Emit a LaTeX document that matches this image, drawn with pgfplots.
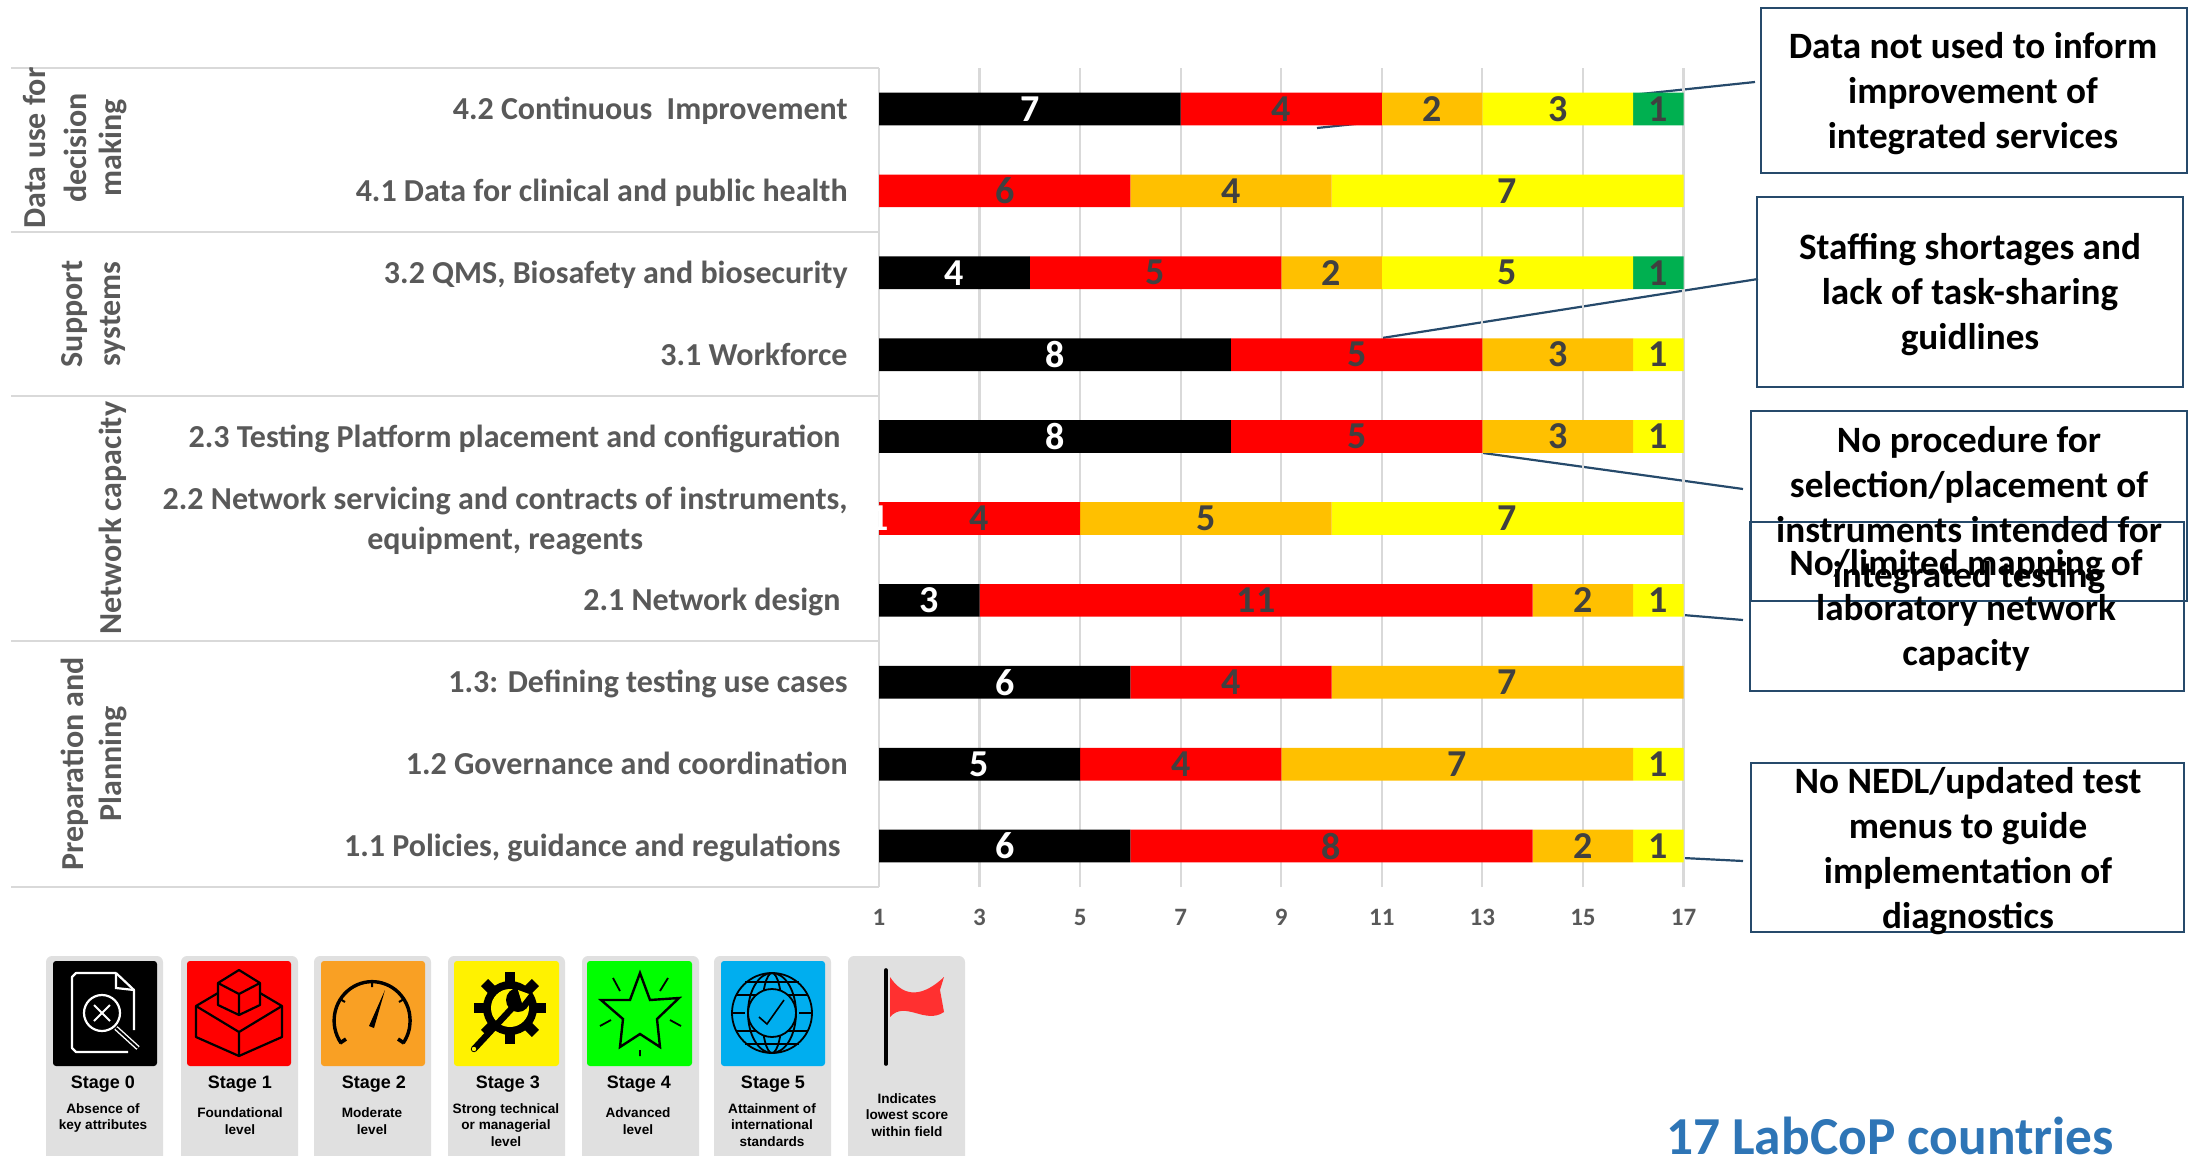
\documentclass[border=0pt]{standalone}
\usepackage{pgfplots}
\pgfplotsset{compat=1.18}
\usepackage{pgfplotstable}
\usepackage{fontspec}
\setmainfont{Carlito}
\newfontfamily\arial{Liberation Sans}
\definecolor{txt}{HTML}{595959}
\definecolor{lab}{HTML}{404040}
\definecolor{grd}{HTML}{D9D9D9}
\definecolor{sred}{HTML}{FF0000}
\definecolor{sorange}{HTML}{FFC000}
\definecolor{syellow}{HTML}{FFFF00}
\definecolor{sgreen}{HTML}{00B050}
\definecolor{cal}{HTML}{264A6B}
\definecolor{card}{HTML}{E0E0E0}
\definecolor{bluet}{HTML}{2E75B6}
\definecolor{iorange}{HTML}{F9A024}
\definecolor{iyellow}{HTML}{FFF200}
\definecolor{igreen}{HTML}{00FF00}
\definecolor{iblue}{HTML}{00AEEF}
\definecolor{iflag}{HTML}{FF3030}
\pgfplotstableread{
y s0 s1 s2 s3 s4
10 7 4 2 3 1
9 0 6 4 7 0
8 4 5 2 5 1
7 8 5 3 1 0
6 8 5 3 1 0
5 1 4 5 7 0
4 3 11 2 1 0
3 6 4 7 0 0
2 5 4 7 1 0
1 6 8 2 1 0
}\stagedata
\pgfplotstableread{
x y label
4 10 7
2.5 8 4
4.5 7 8
4.5 6 8
1 5 1
2 4 3
3.5 3 6
3 2 5
3.5 1 6
}\whitelabels
\pgfplotstableread{
x y label
9 10 4
12 10 2
14.5 10 3
16.5 10 1
3.5 9 6
8 9 4
13.5 9 7
6.5 8 5
10 8 2
13.5 8 5
16.5 8 1
10.5 7 5
14.5 7 3
16.5 7 1
10.5 6 5
14.5 6 3
16.5 6 1
3 5 4
7.5 5 5
13.5 5 7
8.5 4 11
15 4 2
16.5 4 1
8 3 4
13.5 3 7
7 2 4
12.5 2 7
16.5 2 1
10 1 8
15 1 2
16.5 1 1
}\darklabels
\begin{document}
\begin{tikzpicture}[x=0.5pt,y=-0.5pt]
\path[use as bounding box] (0,0) rectangle (2202,1156);
% callout lines (under the bars)
\begin{scope}[draw=cal,line width=1.1pt]
\draw (1317,128) -- (1755,82);
\draw (1382,338) -- (1758,279);
\draw (1483,453) -- (1743,489);
\draw (1683,615) -- (1743,620);
\draw (1683,858) -- (1743,861);
\end{scope}
% group separators
\begin{scope}[draw=grd,line width=1.1pt]
\foreach \yy in {68,232,396,641,887} \draw (11,\yy) -- (879,\yy);
\end{scope}
\begin{axis}[
  at={(439.5pt,-443.5pt)},anchor=south west,scale only axis,
  width=402.25pt,height=409.5pt,
  xbar stacked,bar width=16.35pt,
  xmin=1,xmax=17,ymin=0.5,ymax=10.5,
  xtick={1,3,...,17},ytick={1,...,10},
  yticklabels={{\strut 1.1 Policies, guidance and regulations\hspace{3.5pt}},
    {\strut 1.2 Governance and coordination},
    {\strut 1.3: Defining testing use cases},
    {\strut 2.1 Network design\hspace{3.5pt}},
    {\strut 2.2 Network servicing and contracts of instruments,\\\strut equipment, reagents},
    {\strut 2.3 Testing Platform placement and configuration\hspace{3.5pt}},
    {\strut 3.1 Workforce},
    {\strut 3.2 QMS, Biosafety and biosecurity},
    {\strut 4.1 Data for clinical and public health},
    {\strut 4.2 Continuous\ \ Improvement}},
  xmajorgrids,grid style={grd,line width=1.1pt},
  major tick length=0pt,
  axis line style={draw=none},
  /pgf/number format/assume math mode=true,
  xticklabel style={font=\fontsize{12.5}{13}\selectfont\bfseries,text=txt,yshift=-7.5pt},
  yticklabel style={font=\fontsize{16}{20}\selectfont\bfseries,text=txt,align=center,anchor=east,inner sep=0pt,xshift=-15.5pt,yshift=-1.3pt},
]
\addplot[fill=black,draw=none] table[x=s0,y=y] {\stagedata};
\addplot[fill=sred,draw=none] table[x=s1,y=y] {\stagedata};
\addplot[fill=sorange,draw=none] table[x=s2,y=y] {\stagedata};
\addplot[fill=syellow,draw=none] table[x=s3,y=y] {\stagedata};
\addplot[fill=sgreen,draw=none] table[x=s4,y=y] {\stagedata};
\end{axis}
\begin{axis}[
  at={(439.5pt,-443.5pt)},anchor=south west,scale only axis,
  width=402.25pt,height=409.5pt,
  xmin=1,xmax=17,ymin=0.5,ymax=10.5,hide axis,clip=false,
  nodes near coords={\pgfplotspointmeta},
  nodes near coords align={center},
  point meta=explicit symbolic,
]
\addplot[draw=none,mark=none,every node near coord/.style={font=\fontsize{19}{20}\selectfont\bfseries,text=white,inner sep=0pt}] table[x=x,y=y,meta=label] {\whitelabels};
\addplot[draw=none,mark=none,every node near coord/.style={font=\fontsize{19}{20}\selectfont\bfseries,text=lab,inner sep=0pt}] table[x=x,y=y,meta=label] {\darklabels};
\end{axis}
% group titles
\begin{scope}[text=txt,font=\fontsize{16}{20}\selectfont\bfseries]
\node[rotate=90] at (35,148) {Data use for};
\node[rotate=90] at (75,148) {decision};
\node[rotate=90] at (113,148) {making};
\node[rotate=90] at (75,314) {Support};
\node[rotate=90] at (113,314) {systems};
\node[rotate=90] at (113,518) {Network capacity};
\node[rotate=90] at (75,764) {Preparation and};
\node[rotate=90] at (113,764) {Planning};
\end{scope}
% callout boxes
\begin{scope}[draw=cal,line width=1.25pt]
\draw (1761,8) rectangle (2187,173);
\draw (1757,197) rectangle (2183,387);
\draw (1751,411) rectangle (2187,601);
\draw (1750,522) rectangle (2184,691);
\draw (1751,763) rectangle (2184,932);
\end{scope}
\begin{scope}[font=\fontsize{18.6}{22.5}\selectfont\bfseries,align=center,text=black]
\node at (1973,94) {Data not used to inform\\improvement of\\integrated services};
\node at (1970,295) {Staffing shortages and\\lack of task-sharing\\guidlines};
\node at (1969,510) {No procedure for\\selection/placement of\\instruments intended for\\integrated testing};
\node at (1966,610) {No/limited mapping of\\laboratory network\\capacity};
\node at (1968,851) {No NEDL/updated test\\menus to guide\\implementation of\\diagnostics};
\end{scope}
\node[font=\fontsize{26.7}{28}\selectfont\bfseries,text=bluet,inner sep=0pt] at (1890,1136) {17 LabCoP countries};
% legend cards
\foreach \xl in {46,181,314,448,582,714,848}
  \fill[card,rounded corners=3pt] (\xl,956) rectangle ++(117,230);
\fill[black,rounded corners=1.5pt] (53,961) rectangle (157,1066);
\fill[red,rounded corners=1.5pt] (187,961) rectangle (291,1066);
\fill[iorange,rounded corners=1.5pt] (321,961) rectangle (425,1066);
\fill[iyellow,rounded corners=1.5pt] (454,961) rectangle (559,1066);
\fill[igreen,rounded corners=1.5pt] (587,961) rectangle (692,1066);
\fill[iblue,rounded corners=1.5pt] (721,961) rectangle (825,1066);
% icon 0
\draw[white,line width=1.1pt,line join=round] (116,973) -- (76,973) -- (72,977) -- (72,1048) -- (76,1052) -- (128,1052);
\draw[white,line width=1.1pt,line join=round] (116,973) -- (134,990) -- (134,1030);
\draw[white,line width=1.1pt] (116,973) -- (116,988) -- (134,990);
\draw[white,line width=1.1pt] (102,1013) circle[radius=9pt];
\draw[white,line width=1pt] (94,1005) -- (110,1021) (110,1005) -- (94,1021);
\draw[white,line width=2.4pt] (116,1028) -- (138,1048);
\draw[black,line width=1pt] (116,1028) -- (138,1048);
% icon 1
\begin{scope}[line width=1.1pt,line join=round]
\draw (239,970) -- (260,983) -- (260,1005) -- (239,1015) -- (218,1005) -- (218,983) -- cycle;
\draw (218,983) -- (239,994) -- (260,983) (239,994) -- (239,1015);
\draw (218,993) -- (196,1006) -- (196,1037) -- (239,1056) -- (282,1037) -- (282,1006) -- (260,993);
\draw (196,1006) -- (239,1032) -- (282,1006) (239,1032) -- (239,1056);
\end{scope}
% icon 2
\draw[line width=1.7pt] (341,1043) arc[start angle=215,end angle=-35,x radius=19pt,y radius=19.5pt];
\fill (385,990) -- (374,1028) -- (369,1026) -- cycle;
\draw[line width=1pt] (372,981) -- (372,987) (340,999) -- (345,1002) (404,999) -- (399,1002);
\draw[line width=1.8pt] (340,1043) -- (346,1039) (404,1043) -- (398,1039);
% icon 3
\foreach \a in {0,45,...,315}
  \fill[black,rotate around={\a:(510,1008)}] (505,972) rectangle (515,982);
\fill[black] (510,1008) circle[radius=13.5pt];
\fill[iyellow] (510,1008) circle[radius=9.5pt];
\draw[black,line width=3.2pt,line cap=round] (474,1049) -- (514,1006);
\fill[black] (518,1000) circle[radius=6pt];
\fill[iyellow] (518,990) -- (529,994) -- (522,1003) -- cycle;
\fill[iyellow] (474,1049) circle[radius=1.1pt];
% icon 4
\draw[line width=1.2pt,line join=miter,fill=igreen] (640,973) -- (650,1000) -- (679,998) -- (657,1019) -- (660,1047) -- (640,1034) -- (620,1047) -- (623,1019) -- (601,1000) -- (630,1000) -- cycle;
\draw[line width=.9pt] (613,978) -- (620,991) (668,978) -- (660,991) (600,1026) -- (611,1020) (681,1026) -- (670,1020) (640,1050) -- (640,1056);
% icon 5
\begin{scope}[line width=.9pt]
\draw (772,1013) circle[radius=20pt];
\draw (772,1013) ellipse[x radius=12pt,y radius=20pt];
\draw (772,1013) ellipse[x radius=5pt,y radius=20pt];
\draw (736,995) -- (808,995) (731,1013) -- (745,1013) (799,1013) -- (813,1013) (736,1031) -- (808,1031) (745,982) -- (799,982) (745,1044) -- (799,1044);
\fill[iblue] (772,1013) circle[radius=12pt];
\draw (772,1013) circle[radius=12pt];
\draw[line width=.8pt] (759,1017) -- (767,1024) -- (784,1000);
\end{scope}
% flag
\draw[line width=1.8pt,line cap=round] (886,970) -- (886,1064);
\fill[iflag] (890,977) .. controls (905,1000) and (925,995) .. (944,977) -- (940,990) -- (944,1012) .. controls (925,1025) and (905,1000) .. (890,1017) -- cycle;
% card text
\begin{scope}[font=\arial\fontsize{9}{10}\selectfont\bfseries]
\node at (103,1084) {Stage 0};
\node at (240,1084) {Stage 1};
\node at (374,1084) {Stage 2};
\node at (508,1084) {Stage 3};
\node at (639,1084) {Stage 4};
\node at (773,1084) {Stage 5};
\end{scope}
\begin{scope}[font=\arial\fontsize{6.8}{8.25}\selectfont\bfseries,align=center]
\node at (103,1118) {Absence of\\key attributes};
\node at (240,1121) {Foundational\\level};
\node at (372,1121) {Moderate\\level};
\node at (506,1125) {Strong technical\\or managerial\\level};
\node at (638,1121) {Advanced\\level};
\node at (772,1125) {Attainment of\\international\\standards};
\node at (907,1115) {Indicates\\lowest score\\within field};
\end{scope}
\end{tikzpicture}
\end{document}
